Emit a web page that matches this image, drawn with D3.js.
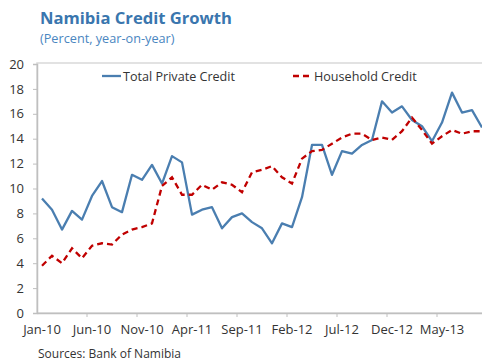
<!DOCTYPE html>
<html>
<head>
<meta charset="utf-8">
<script src="https://cdn.jsdelivr.net/npm/d3@7"></script>
<style>
  html, body { margin: 0; padding: 0; background: #fff; }
  svg { display: block; font-family: "Open Sans", "Noto Sans", sans-serif; }
</style>
</head>
<body>
<svg id="chart" width="482" height="364"></svg>
<script>
// Monthly series, Jan 2010 – Sep 2013 (percent, year-on-year)
const startMonth = "2010-01";
const monthCount = 45;
const totalPrivateCredit = [
  9.2, 8.3, 6.7, 8.2, 7.5, 9.4, 10.6, 8.5, 8.1, 11.1, 10.7, 11.9,
  10.4, 12.6, 12.1, 7.9, 8.3, 8.5, 6.8, 7.7, 8.0, 7.3, 6.8, 5.6,
  7.2, 6.9, 9.3, 13.5, 13.5, 11.1, 13.0, 12.8, 13.5, 13.9, 17.0, 16.1,
  16.6, 15.5, 15.0, 13.8, 15.3, 17.7, 16.1, 16.3, 14.9
];
const householdCredit = [
  3.8, 4.6, 4.0, 5.2, 4.4, 5.4, 5.6, 5.5, 6.3, 6.7, 6.9, 7.2,
  10.2, 10.9, 9.5, 9.5, 10.3, 9.9, 10.5, 10.3, 9.7, 11.3, 11.5, 11.8,
  10.9, 10.4, 12.4, 13.0, 13.1, 13.6, 14.1, 14.4, 14.4, 13.9, 14.1, 13.9,
  14.6, 15.7, 14.7, 13.6, 14.2, 14.7, 14.4, 14.6, 14.6
];
const yTicks = [0, 2, 4, 6, 8, 10, 12, 14, 16, 18, 20];
const labelEvery = 5;

const parse = d3.timeParse("%Y-%m");
const fmt = d3.timeFormat("%b-%y");
const months = d3.range(monthCount).map(i => d3.timeMonth.offset(parse(startMonth), i));
const keys = months.map(fmt);

const svg = d3.select("#chart");
const plotLeft = 37, plotTop = 63, plotBottom = 313;

const x = d3.scaleBand().domain(keys).range([plotLeft, plotLeft + monthCount * 10]).padding(0);
const y = d3.scaleLinear().domain([0, 20]).range([plotBottom, 64]);

// Title block
svg.append("text").attr("x", 40).attr("y", 24)
  .attr("font-size", 16.6).attr("font-weight", 700).attr("fill", "#3a76ae")
  .text("Namibia Credit Growth");
svg.append("text").attr("x", 40).attr("y", 43)
  .attr("font-size", 12.7).attr("fill", "#4a86bf")
  .text("(Percent, year-on-year)");

// Plot frame
svg.append("rect")
  .attr("x", plotLeft).attr("y", plotTop)
  .attr("width", monthCount * 10 + 5).attr("height", plotBottom - plotTop)
  .attr("fill", "none").attr("stroke", "#d9d9d9").attr("stroke-width", 1.5);

// Y axis
const yAxis = svg.append("g").attr("transform", `translate(${plotLeft},0)`)
  .call(d3.axisLeft(y).tickValues(yTicks).tickSize(4).tickPadding(9));
yAxis.select(".domain").attr("stroke", "#bfbfbf").attr("stroke-width", 1.5);
yAxis.selectAll(".tick line").attr("stroke", "#bfbfbf");
yAxis.selectAll("text").attr("font-size", 13).attr("fill", "#333")
  .attr("font-family", "\"Open Sans\", sans-serif");

// X axis: labels centred on every fifth month, ticks on category boundaries
const xAxis = svg.append("g").attr("transform", `translate(0,${plotBottom})`)
  .call(d3.axisBottom(x).tickValues(keys.filter((k, i) => i % labelEvery === 0))
    .tickSize(0).tickPadding(12));
xAxis.select(".domain").attr("stroke", "#bfbfbf").attr("stroke-width", 1.5);
xAxis.selectAll("text").attr("font-size", 13).attr("fill", "#333")
  .attr("font-family", "\"Open Sans\", sans-serif");
svg.append("g").selectAll("line")
  .data(keys.filter((k, i) => i % labelEvery === 0 && i > 0))
  .join("line")
  .attr("x1", d => x(d)).attr("x2", d => x(d))
  .attr("y1", plotBottom).attr("y2", plotBottom + 4)
  .attr("stroke", "#bfbfbf");

// Series
const line = d3.line()
  .x((d, i) => x(keys[i]) + x.bandwidth() / 2)
  .y(d => y(d));

svg.append("path").datum(totalPrivateCredit)
  .attr("d", line).attr("fill", "none")
  .attr("stroke", "#4a7eb0").attr("stroke-width", 2.3)
  .attr("stroke-linejoin", "round");

svg.append("path").datum(householdCredit)
  .attr("d", line).attr("fill", "none")
  .attr("stroke", "#c00000").attr("stroke-width", 2.3)
  .attr("stroke-dasharray", "6,4");

// Legend
const legend = [
  { name: "Total Private Credit", color: "#4a7eb0", dash: null, x: 102 },
  { name: "Household Credit", color: "#c00000", dash: "6,4", x: 293 }
];
const lg = svg.append("g").selectAll("g").data(legend).join("g")
  .attr("transform", d => `translate(${d.x},76)`);
lg.append("line").attr("x1", 0).attr("x2", 19).attr("y1", 0).attr("y2", 0)
  .attr("stroke", d => d.color).attr("stroke-width", 2.3)
  .attr("stroke-dasharray", d => d.dash);
lg.append("text").attr("x", 21).attr("y", 4.5)
  .attr("font-size", 12.6).attr("fill", "#333").text(d => d.name);

// Source note
svg.append("text").attr("x", 38).attr("y", 358)
  .attr("font-size", 12).attr("fill", "#333")
  .text("Sources: Bank of Namibia");
</script>
</body>
</html>
